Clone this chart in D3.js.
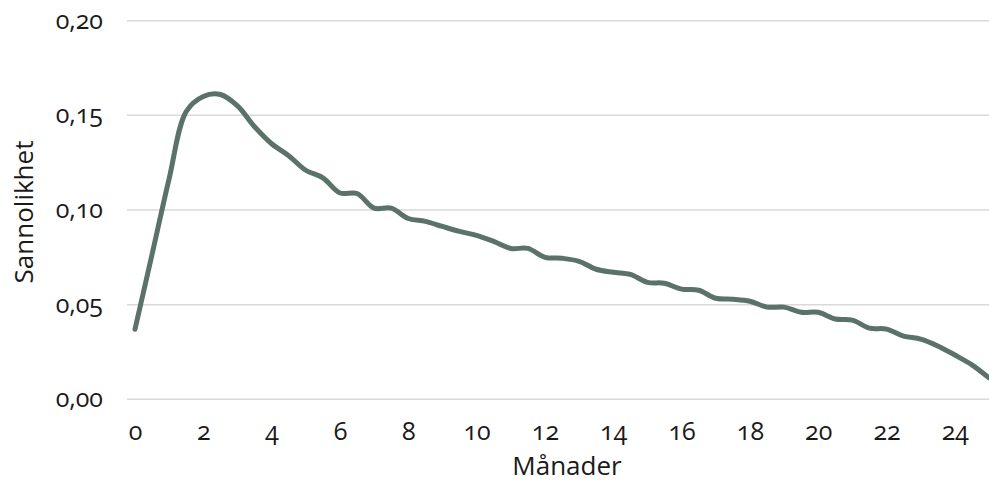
<!DOCTYPE html>
<html>
<head>
<meta charset="utf-8">
<script src="https://cdn.jsdelivr.net/npm/d3@7"></script>
<style>
  html, body { margin: 0; padding: 0; background: #fff; }
  svg { display: block; }
  text { font-family: "Open Sans", "Noto Sans", sans-serif; fill: #1a1a1a; }
  .tick text { font-variant-numeric: oldstyle-nums; font-feature-settings: "onum" 1; }
</style>
</head>
<body>
<svg id="chart" width="989" height="484"></svg>
<script>
// Data
const months = [0,0.5,1,1.5,2,2.5,3,3.5,4,4.5,5,5.5,6,6.5,7,7.5,8,8.5,9,9.5,10,10.5,11,11.5,12,12.5,13,13.5,14,14.5,15,15.5,16,16.5,17,17.5,18,18.5,19,19.5,20,20.5,21,21.5,22,22.5,23,23.5,24,24.5,25];
const probability = [0.037,0.0766,0.1166,0.152,0.160,0.161,0.155,0.144,0.135,0.1287,0.121,0.117,0.109,0.1087,0.101,0.101,0.0955,0.094,0.0913,0.0887,0.0866,0.0834,0.0797,0.0797,0.075,0.0745,0.0729,0.0687,0.0671,0.066,0.0618,0.0613,0.0582,0.0576,0.0534,0.0529,0.0518,0.0487,0.0487,0.046,0.046,0.0424,0.0418,0.0376,0.0371,0.0334,0.0318,0.0282,0.0234,0.0182,0.0113];
const xTicks = [0,2,4,6,8,10,12,14,16,18,20,22,24];
const yTicks = [0,0.05,0.10,0.15,0.20];
const xTitle = "Månader";
const yTitle = "Sannolikhet";

const svg = d3.select("#chart");
const gridLeft = 127, gridRight = 989;
const x = d3.scaleLinear().domain([0, 25]).range([135, 989]);
const y = d3.scaleLinear().domain([0, 0.20]).range([399.3, 20.7]);
const fmt = v => d3.format(".2f")(v).replace(".", ",");

// Gridlines
svg.append("g").selectAll("line").data(yTicks).join("line")
  .attr("x1", gridLeft).attr("x2", gridRight)
  .attr("y1", d => y(d)).attr("y2", d => y(d))
  .attr("stroke", "#d9d9d9").attr("stroke-width", 1.5);

// Y axis labels
const yAxis = d3.axisLeft(y).tickValues(yTicks).tickFormat(fmt).tickSize(0).tickPadding(0);
const gy = svg.append("g").attr("transform", "translate(103,0)").call(yAxis);
gy.select(".domain").remove();
gy.selectAll("text").attr("font-size", 25).attr("font-family", "Open Sans, sans-serif").attr("fill", "#1a1a1a").attr("dy", "0.3em");

// X axis labels
const xAxis = d3.axisBottom(x).tickValues(xTicks).tickFormat(d3.format("d")).tickSize(0).tickPadding(0);
const gx = svg.append("g").attr("transform", "translate(0,440)").call(xAxis);
gx.select(".domain").remove();
gx.selectAll("text").attr("font-size", 25).attr("font-family", "Open Sans, sans-serif").attr("fill", "#1a1a1a").attr("dy", 0);

// Line
const line = d3.line()
  .x((d, i) => x(months[i]))
  .y(d => y(d))
  .curve(d3.curveCatmullRom.alpha(0.5));
svg.append("path")
  .datum(probability)
  .attr("d", line)
  .attr("fill", "none")
  .attr("stroke", "#5a7268")
  .attr("stroke-width", 5)
  .attr("stroke-linecap", "round")
  .attr("stroke-linejoin", "round");

// Titles
svg.append("text").attr("x", 567).attr("y", 475)
  .attr("text-anchor", "middle").attr("font-size", 26).text(xTitle);
svg.append("text").attr("transform", "translate(33,212) rotate(-90)")
  .attr("text-anchor", "middle").attr("font-size", 26).text(yTitle);
</script>
</body>
</html>
